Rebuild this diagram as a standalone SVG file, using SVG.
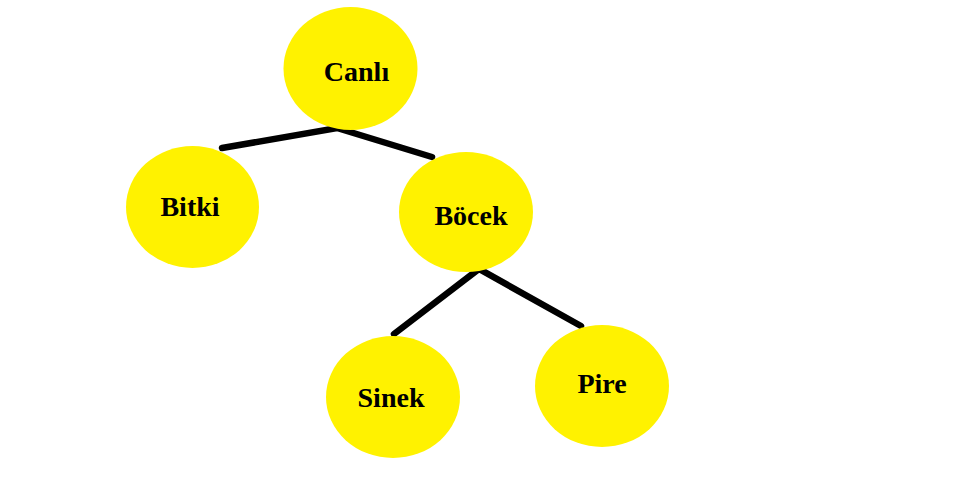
<svg xmlns="http://www.w3.org/2000/svg" width="953" height="502" viewBox="0 0 953 502">
<style>
.node ellipse{fill:#FFF200;stroke:none}
.node text{font-family:"Liberation Serif","Times New Roman",serif;font-weight:bold;font-size:28px;fill:#000;text-anchor:middle}
.edge{fill:none;stroke:#000;stroke-width:6.5;stroke-linecap:round;stroke-linejoin:miter}
</style>
<rect width="953" height="502" fill="#fff"/>
<g id="connectors">
<polyline class="edge" points="222,148 337,128 432,157"/>
<polyline class="edge" points="394,334 479,269 581,326"/>
</g>
<g id="node-canli" class="node"><ellipse cx="350.5" cy="68.5" rx="67" ry="61.5"/><text x="356.5" y="81">Canlı</text></g>
<g id="node-bitki" class="node"><ellipse cx="192.5" cy="207" rx="66.5" ry="61"/><text x="190" y="216">Bitki</text></g>
<g id="node-bocek" class="node"><ellipse cx="466" cy="212" rx="67" ry="60"/><text x="471" y="225">Böcek</text></g>
<g id="node-sinek" class="node"><ellipse cx="393" cy="397" rx="67" ry="61"/><text x="391" y="407">Sinek</text></g>
<g id="node-pire" class="node"><ellipse cx="602" cy="386" rx="67" ry="61"/><text x="602" y="393">Pire</text></g>
</svg>
